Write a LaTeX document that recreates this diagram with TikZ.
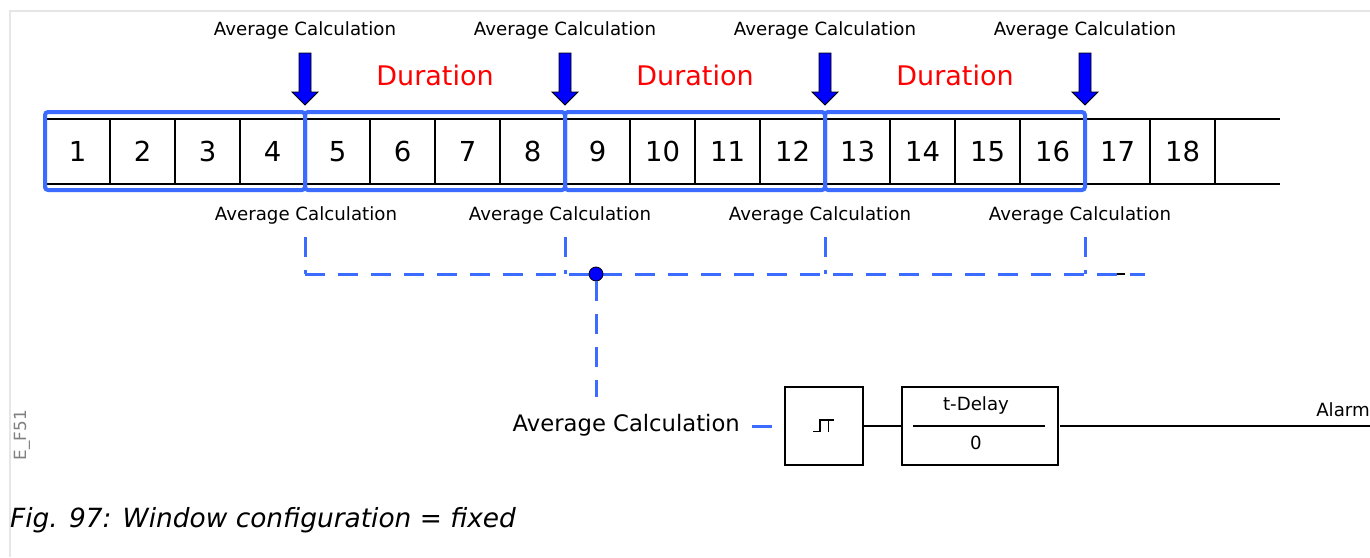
\documentclass[tikz,border=0pt]{standalone}
\usepackage{fontspec}
\setmainfont{DejaVu Sans}
\usetikzlibrary{positioning}
\definecolor{lineblue}{RGB}{59,107,255}
\definecolor{arrowblue}{RGB}{0,0,255}
\definecolor{framegray}{RGB}{230,230,230}
\begin{document}
\begin{tikzpicture}[x=1pt,y=-1pt,
  cell/.style={draw=black, line width=1.5pt, outer sep=0pt, minimum width=65pt, minimum height=65pt, inner sep=0pt, font=\fontsize{27.5}{30}\selectfont},
  small/.style={font=\fontsize{18.2}{22}\selectfont, inner sep=0pt},
  dur/.style={font=\fontsize{27}{30}\selectfont, text=red, inner sep=0pt},
  win/.style={draw=lineblue, line width=4pt, rounded corners=3pt},
  dashln/.style={draw=lineblue, line width=3pt, dash pattern=on 20pt off 13pt},
  blk/.style={draw=black, line width=1.5pt, inner sep=0pt, outer sep=0pt}]
\useasboundingbox (0,0) rectangle (1370,557);
% frame
\draw[framegray, line width=2pt] (10,557) -- (10,11) -- (1370,11);
% cells
\foreach \i in {1,...,18} {
  \node[cell] (c\i) at ({45+65*(\i-1)+32.5},151.5) {\i};
}
\coordinate (endT) at (1280,119);
\coordinate (endB) at (1280,184);
\draw[black, line width=1.5pt] (c18.north east) -- (endT);
\draw[black, line width=1.5pt] (c18.south east) -- (endB);
% windows
\foreach \k/\a/\b in {1/1/4,2/5/8,3/9/12,4/13/16} {
  \draw[win] ([shift={(0,-7)}]c\a.north west) rectangle ([shift={(0,6)}]c\b.south east);
}
% top labels and arrows
\foreach \k/\x in {1/305,2/565,3/825,4/1085} {
  \node[small] (t\k) at (\x,30) {Average Calculation};
  \draw[fill=arrowblue, draw=black, line width=0.8pt]
    (\x-6,53) -- (\x+6,53) -- (\x+6,92) -- (\x+13,92) -- (\x,105) -- (\x-13,92) -- (\x-6,92) -- cycle;
}
\foreach \k/\x in {1/435,2/695,3/955} {
  \node[dur] (d\k) at (\x,75) {Duration};
}
% bottom labels
\foreach \k/\x/\lx in {1/305/306,2/565/560,3/825/820,4/1085/1080} {
  \node[small] (b\k) at (\lx,215) {Average Calculation};
  \coordinate (v\k) at (\x,237);
  \coordinate (j\k) at (\x,274);
  \draw[dashln] (v\k) -- (j\k);
}
\coordinate (hend) at (1145,274);
\draw[black, line width=1.5pt] (1112,274) -- (1125,274);
\draw[dashln] (j1) -- (hend);
\node[circle, fill=arrowblue, draw=black, line width=0.8pt, minimum size=14pt, inner sep=0pt] (dot) at (596,274) {};
\coordinate (dend) at (596,397);
\draw[dashln] (dot.south) -- (dend);
% logic
\node[font=\fontsize{22.7}{26}\selectfont, inner sep=0pt, anchor=east] (avg) at (740,425.5) {Average Calculation};
\node[blk, minimum width=78pt, minimum height=78pt] (hyst) at (824,426) {};
\draw[black, line width=1.4pt] (813.3,431.7) -- (820,431.7) -- (820,420) -- (834.3,420);
\draw[black, line width=1.4pt] (828.3,420) -- (828.3,431.7);
\coordinate (ds) at (752,426);
\coordinate (de) at (772,426);
\draw[lineblue, line width=3pt] (ds) -- (de);
\node[blk, minimum width=156pt, minimum height=78pt] (td) at (980,426) {};
\draw[black, line width=1.5pt] (913,426) -- (1045,426);
\node[small] (tdl) at (976,405) {t-Delay};
\node[small] (tz) at (976,443) {0};
\draw[black, line width=1.5pt] (hyst.east) -- (td.west);
\coordinate (aend) at (1370,426);
\draw[black, line width=1.5pt] ([xshift=2pt]td.east) -- (aend);
\node[small, anchor=east] (alarm) at (1370,410) {Alarm};
% side label and caption
\node[font=\fontsize{16.8}{20}\selectfont, text=gray, rotate=90, inner sep=0pt] (ef) at (22,435) {E\_F51};
\node[font=\fontsize{26.4}{30}\selectfont\itshape, inner sep=0pt, anchor=west] (cap) at (10,520.5) {Fig. 97: Window configuration = fixed};
\end{tikzpicture}
\end{document}
